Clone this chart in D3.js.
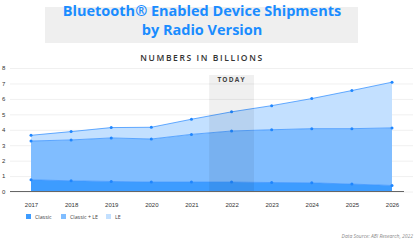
<!DOCTYPE html>
<html>
<head>
<meta charset="utf-8">
<script src="https://cdn.jsdelivr.net/npm/d3@7"></script>
<style>
  body { margin: 0; background: #fff; }
  svg { display: block; font-family: "Open Sans", sans-serif; }
</style>
</head>
<body>
<div id="chart"></div>
<script>
// values in billions
var years = ["2017","2018","2019","2020","2021","2022","2023","2024","2025","2026"];
var classic = [0.76, 0.69, 0.65, 0.61, 0.61, 0.61, 0.58, 0.56, 0.48, 0.39];
var classicLE = [2.51, 2.65, 2.82, 2.79, 3.09, 3.31, 3.42, 3.51, 3.59, 3.73];
var le = [0.37, 0.54, 0.67, 0.76, 0.98, 1.24, 1.56, 1.95, 2.47, 2.96];
var seriesNames = ["Classic", "Classic + LE", "LE"];
var yTicks = [0, 1, 2, 3, 4, 5, 6, 7, 8];
var todayYear = "2022";

var colors = ["#3d9cff", "#80bdff", "#c3e0ff"];

var width = 418, height = 240;
var margin = {top: 68, right: 5, bottom: 49, left: 10};
var plotW = width - margin.left - margin.right,
    plotH = height - margin.top - margin.bottom;

var table = years.map(function(y, i) {
    return {year: y, "Classic": classic[i], "Classic + LE": classicLE[i], "LE": le[i]};
});

var svg = d3.select("#chart").append("svg")
    .attr("width", width)
    .attr("height", height);

// title block
svg.append("rect")
    .attr("x", 45).attr("y", 7)
    .attr("width", 313).attr("height", 36)
    .style("fill", "#efefef");

svg.append("text")
    .attr("x", 202).attr("y", 16)
    .attr("text-anchor", "middle")
    .style("font-size", "14.5px").style("font-weight", "700")
    .style("fill", "#1a8cff")
    .text("Bluetooth® Enabled Device Shipments");
svg.append("text")
    .attr("x", 202).attr("y", 35)
    .attr("text-anchor", "middle")
    .style("font-size", "14.5px").style("font-weight", "700")
    .style("fill", "#1a8cff")
    .text("by Radio Version");

svg.append("text")
    .attr("x", 202).attr("y", 61)
    .attr("text-anchor", "middle")
    .style("font-size", "8.5px").style("font-weight", "600")
    .style("letter-spacing", "1.6px")
    .style("fill", "#333")
    .text("NUMBERS IN BILLIONS");

var g = svg.append("g")
    .attr("transform", "translate(" + margin.left + "," + margin.top + ")");

var x = d3.scalePoint()
    .domain(years)
    .range([21, 382]);

var y = d3.scaleLinear()
    .domain([0, 8])
    .range([plotH + 0.5, 0]);

// grid lines + y labels
var yAxis = d3.axisLeft(y).tickValues(yTicks).tickSize(-plotW).tickPadding(3);
var yg = g.append("g").call(yAxis);
yg.select(".domain").remove();
yg.selectAll(".tick line").style("stroke", "#f0f0f0");
yg.selectAll(".tick text")
    .attr("x", -3).style("text-anchor", "start")
    .attr("transform", "translate(-5,0)")
    .style("font-size", "6px").style("fill", "#333");

var stack = d3.stack().keys(seriesNames);
var layers = stack(table);

var area = d3.area()
    .x(function(d) { return x(d.data.year); })
    .y0(function(d) { return y(d[0]); })
    .y1(function(d) { return y(d[1]); });

var line = d3.line()
    .x(function(d) { return x(d.data.year); })
    .y(function(d) { return y(d[1]); });

g.selectAll(".layer")
    .data(layers)
  .enter().append("path")
    .attr("class", "layer")
    .attr("d", area)
    .style("fill", function(d, i) { return colors[i]; });

g.selectAll(".edge")
    .data(layers)
  .enter().append("path")
    .attr("class", "edge")
    .attr("d", line)
    .style("fill", "none")
    .style("stroke", "#3f96ff")
    .style("stroke-width", 0.8);

layers.forEach(function(layer) {
    g.selectAll(null)
        .data(layer)
      .enter().append("circle")
        .attr("cx", function(d) { return x(d.data.year); })
        .attr("cy", function(d) { return y(d[1]); })
        .attr("r", 1.5)
        .style("fill", "#1f86ff");
});

// today band sits over the areas
var step = x.step();
g.append("rect")
    .attr("x", x(todayYear) - step * 0.56)
    .attr("y", y(7.55))
    .attr("width", step * 1.12)
    .attr("height", y(0) - y(7.55))
    .style("fill", "#000")
    .style("opacity", 0.06);

g.append("text")
    .attr("x", x(todayYear))
    .attr("y", y(7.2) + 2)
    .attr("text-anchor", "middle")
    .style("font-size", "6.5px").style("font-weight", "700")
    .style("letter-spacing", "1.2px")
    .style("fill", "#444")
    .text("TODAY");

// baseline + x labels
var xAxis = d3.axisBottom(x).tickSize(0).tickPadding(11);
var xg = g.append("g")
    .attr("transform", "translate(0," + y(0) + ")")
    .call(xAxis);
xg.select(".domain").remove();
xg.selectAll("text").style("font-size", "6px").style("fill", "#333");

g.append("line")
    .attr("x1", 0).attr("x2", x("2026") + 12)
    .attr("y1", y(0)).attr("y2", y(0))
    .style("stroke", "#666").style("stroke-width", 1);

// legend
var legend = svg.append("g").attr("transform", "translate(26,217)");
var legX = [0, 35, 80];
seriesNames.forEach(function(name, i) {
    legend.append("rect")
        .attr("x", legX[i]).attr("y", -3)
        .attr("width", 5).attr("height", 5)
        .style("fill", colors[i]);
    legend.append("text")
        .attr("x", legX[i] + 9).attr("y", 1.5)
        .style("font-size", "5.3px").style("fill", "#444")
        .text(name);
});

svg.append("text")
    .attr("x", 413).attr("y", 238)
    .attr("text-anchor", "end")
    .style("font-size", "5px").style("font-style", "italic")
    .style("fill", "#888")
    .text("Data Source: ABI Research, 2022");
</script>
</body>
</html>
